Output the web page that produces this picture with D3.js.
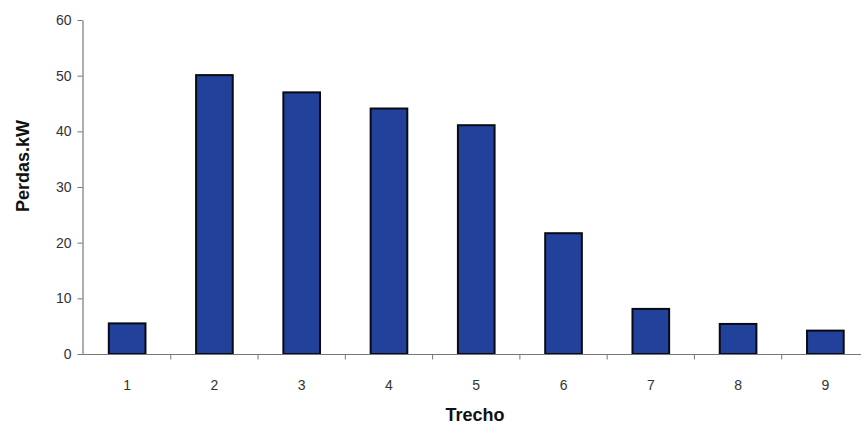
<!DOCTYPE html>
<html><head><meta charset="utf-8">
<script src="https://cdn.jsdelivr.net/npm/d3@7"></script>
<style>body{margin:0;background:#fff}svg{display:block}</style>
</head><body>
<svg id="c" width="861" height="428"></svg>
<script>
const categories = ["1","2","3","4","5","6","7","8","9"];
const perdas = [5.5, 50.1, 47.0, 44.1, 41.1, 21.7, 8.1, 5.4, 4.2];
const yTicks = [0,10,20,30,40,50,60];
const xTitle = "Trecho";
const yTitle = "Perdas.kW";

const svg = d3.select("#c");
const x = d3.scaleBand().domain(categories).range([83.5, 869]).paddingInner(0.58).paddingOuter(0.29);
const xb = d3.scaleBand().domain(categories).range([83.5, 869]);
const y = d3.scaleLinear().domain([0,60]).range([354, 20]);
const font = "Arial, Liberation Sans, sans-serif";

// y axis
const ya = svg.append("g").attr("transform","translate(82.5,0)")
  .call(d3.axisLeft(y).tickValues(yTicks).tickSize(5).tickSizeOuter(0));
ya.select(".domain").attr("stroke","#777").attr("stroke-width",1.2);
ya.selectAll(".tick line").attr("stroke","#777");
ya.selectAll(".tick text").attr("font-family",font).attr("font-size",14).attr("fill","#333").attr("x",-11);

// bars
svg.append("g").selectAll("rect").data(perdas).join("rect")
  .attr("x",(d,i)=>x(categories[i]))
  .attr("width",x.bandwidth())
  .attr("y",d=>y(d))
  .attr("height",d=>y(0)-y(d))
  .attr("fill","#22419a").attr("stroke","#0a0a14").attr("stroke-width",2);

// x axis
const xa = svg.append("g").attr("transform","translate(0,354.5)");
xa.append("line").attr("x1",82.5).attr("x2",869).attr("stroke","#777").attr("stroke-width",1.2);
xa.selectAll("line.t").data(categories.slice(1)).join("line").attr("class","t")
  .attr("x1",d=>xb(d)).attr("x2",d=>xb(d)).attr("y1",0).attr("y2",5).attr("stroke","#777");
xa.selectAll("text").data(categories).join("text")
  .attr("x",d=>x(d)+x.bandwidth()/2).attr("y",35)
  .attr("text-anchor","middle").attr("font-family",font)
  .attr("font-size",14).attr("fill","#333").text(d=>d);

svg.append("text").attr("x",475).attr("y",421).attr("text-anchor","middle")
  .attr("font-family",font).attr("font-weight","bold").attr("font-size",18).attr("fill","#111").text(xTitle);
svg.append("text").attr("transform","translate(29,166) rotate(-90)").attr("text-anchor","middle")
  .attr("font-family",font).attr("font-weight","bold").attr("font-size",18).attr("fill","#111").text(yTitle);
</script>
</body></html>
